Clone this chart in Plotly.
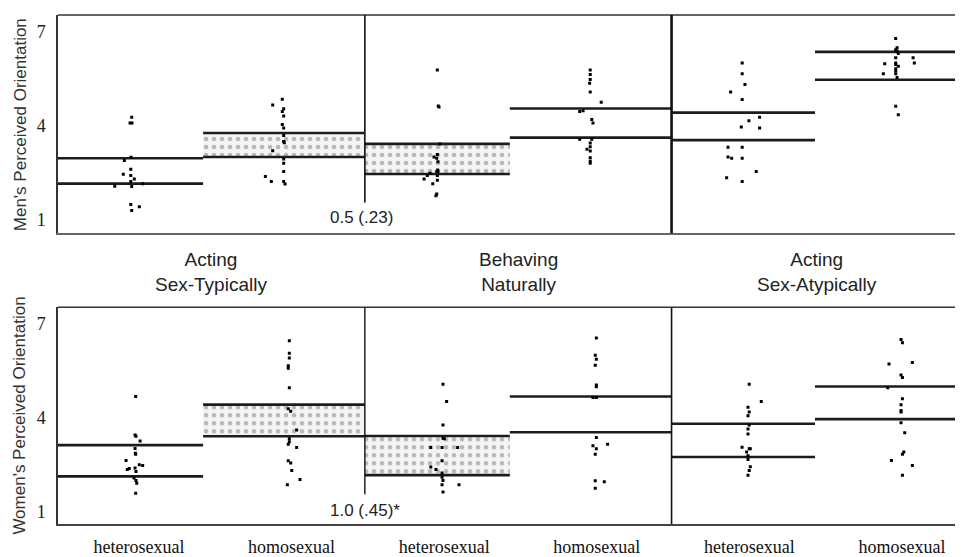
import plotly.graph_objects as go

# ---------------- data ----------------
group_labels = ["heterosexual", "homosexual", "heterosexual", "homosexual", "heterosexual", "homosexual"]
condition_labels = ["Acting<br>Sex-Typically", "Behaving<br>Naturally", "Acting<br>Sex-Atypically"]
y_ticks = [1, 4, 7]

# band limits (lower / upper line) per group
men_lo = [2.15, 3.00, 2.46, 3.62, 3.54, 5.47]
men_hi = [2.96, 3.77, 3.42, 4.55, 4.42, 6.36]
women_lo = [2.12, 3.40, 2.16, 3.53, 2.74, 3.95]
women_hi = [3.12, 4.41, 3.41, 4.67, 3.80, 4.99]
men_shaded = [1, 2]
women_shaded = [1, 2]

men_effect = "0.5 (.23)"
women_effect = "1.0 (.45)*"

# individual ratings (y) and horizontal jitter (in category units)
men_y = [
    [4.27, 4.09, 4.09, 2.99, 2.89, 2.61, 2.45, 2.41, 2.30, 2.22, 2.07, 2.06, 2.15, 1.48, 1.41, 1.29],
    [4.85, 4.66, 4.54, 4.46, 4.31, 4.04, 3.93, 3.69, 3.50, 3.46, 3.20, 2.94, 2.80, 2.54, 2.38, 2.22, 2.22, 2.14],
    [5.78, 4.63, 4.60, 3.42, 3.08, 3.00, 2.96, 2.85, 2.59, 2.54, 2.54, 2.48, 2.41, 2.41, 2.30, 2.26, 2.15, 1.82, 1.76],
    [5.78, 5.64, 5.48, 5.36, 5.08, 4.75, 4.48, 4.46, 4.20, 4.09, 3.57, 3.57, 3.45, 3.33, 3.25, 3.19, 2.98, 2.87, 2.80],
    [6.01, 5.66, 5.32, 5.08, 4.84, 4.27, 4.16, 3.96, 3.93, 3.31, 3.31, 3.00, 2.96, 2.96, 2.54, 2.34, 2.22],
    [6.79, 6.49, 6.43, 6.38, 6.31, 6.17, 6.17, 6.01, 5.98, 6.01, 5.96, 5.90, 5.82, 5.75, 5.66, 5.66, 5.54, 4.62, 4.35],
]
men_dx = [
    [-0.048, -0.059, -0.046, -0.052, -0.096, -0.054, -0.103, -0.054, -0.031, -0.054, -0.159, -0.048, 0.024, -0.054, 0.002, -0.048],
    [-0.061, -0.124, -0.052, -0.061, -0.052, -0.061, -0.052, -0.052, -0.052, -0.048, -0.124, -0.052, -0.052, -0.052, -0.172, -0.133, -0.052, -0.043],
    [-0.045, -0.039, -0.034, -0.028, -0.045, -0.067, -0.049, -0.041, -0.043, -0.049, -0.041, -0.093, -0.045, -0.111, -0.132, -0.045, -0.075, -0.049, -0.054],
    [-0.043, -0.043, -0.043, -0.047, -0.043, 0.029, -0.090, -0.112, -0.033, -0.025, -0.112, -0.033, -0.043, -0.043, -0.064, -0.043, -0.043, -0.043, -0.043],
    [-0.047, -0.047, -0.029, -0.123, -0.047, 0.067, -0.003, -0.053, 0.067, -0.140, -0.047, -0.140, -0.116, -0.047, 0.045, -0.149, -0.047],
    [-0.041, -0.032, -0.041, -0.032, -0.024, 0.073, -0.041, 0.081, -0.113, -0.041, -0.041, -0.024, -0.041, -0.041, -0.041, -0.122, -0.032, -0.041, -0.024],
]
women_y = [
    [4.67, 3.44, 3.40, 3.25, 3.01, 2.86, 2.83, 2.63, 2.49, 2.47, 2.34, 2.37, 2.39, 2.28, 2.07, 1.99, 1.90, 1.58],
    [6.45, 6.05, 5.90, 5.65, 5.57, 4.95, 4.28, 4.20, 3.60, 3.32, 3.23, 3.15, 3.04, 2.62, 2.55, 2.31, 2.02, 1.85],
    [5.06, 4.51, 3.76, 3.34, 3.32, 3.04, 3.04, 3.04, 2.62, 2.42, 2.34, 2.23, 2.09, 1.99, 1.85, 1.85, 1.62],
    [6.54, 5.99, 5.86, 5.67, 5.04, 4.98, 4.64, 4.64, 3.36, 3.10, 3.00, 2.83, 3.15, 1.98, 1.95, 1.74],
    [5.06, 4.51, 4.33, 4.18, 4.06, 3.76, 3.63, 3.47, 3.05, 3.00, 3.00, 2.90, 2.78, 2.66, 2.43, 2.31, 2.16],
    [6.49, 6.39, 5.71, 5.76, 5.36, 5.28, 4.95, 4.60, 4.41, 4.22, 4.18, 3.83, 3.51, 2.90, 2.83, 2.63, 2.47, 2.16],
]
women_dx = [
    [-0.022, -0.026, -0.020, 0.007, -0.026, -0.024, -0.022, -0.085, 0.002, 0.024, -0.077, -0.064, -0.026, -0.020, -0.033, -0.020, -0.015, -0.022],
    [-0.015, -0.015, -0.015, -0.022, -0.022, -0.015, -0.022, -0.006, 0.033, -0.015, -0.015, -0.022, 0.033, -0.022, -0.006, 0.001, 0.055, -0.028],
    [-0.008, 0.016, -0.008, -0.008, 0.001, -0.088, -0.014, 0.088, -0.014, -0.088, -0.054, -0.014, -0.014, -0.008, -0.014, 0.097, -0.008],
    [-0.003, -0.010, -0.003, -0.010, -0.003, -0.003, -0.025, -0.003, -0.003, -0.025, -0.003, -0.010, 0.071, -0.010, 0.049, -0.010],
    [-0.001, 0.078, -0.009, -0.001, -0.009, -0.001, -0.009, -0.009, -0.048, -0.001, 0.006, -0.018, -0.009, -0.009, 0.006, -0.001, -0.009],
    [-0.006, 0.003, -0.085, 0.068, -0.006, 0.003, -0.093, 0.003, -0.006, -0.006, -0.006, -0.006, 0.018, 0.012, 0.003, -0.069, 0.068, 0.003],
]

# ---------------- layout constants ----------------
X_RANGE = [-0.531, 5.40]
GROUP_EDGES = [(-0.531, 0.42), (0.42, 1.48), (1.48, 2.43), (2.43, 3.49), (3.49, 4.43), (4.43, 5.40)]
DIVIDERS = [1.48, 3.49]
TOP_YRANGE = [0.56, 7.54]
BOT_YRANGE = [0.6, 7.52]
LINE_COL = "#1c1c1c"
SANS = "Liberation Sans, Arial, sans-serif"
SERIF = "Liberation Serif, Times New Roman, serif"

fig = go.Figure()


def add_panel(xa, ya, lo, hi, shaded, ys, dxs):
    for g in range(6):
        x0, x1 = GROUP_EDGES[g]
        if g in shaded:
            fig.add_trace(go.Scatter(
                x=[x0, x1, x1, x0, x0], y=[lo[g], lo[g], hi[g], hi[g], lo[g]],
                mode="lines", fill="toself", line=dict(width=0),
                fillcolor="rgba(0,0,0,0)",
                fillpattern=dict(shape=".", fgcolor="#7a7a7a", bgcolor="#f4f4f4", size=8, solidity=0.25),
                xaxis=xa, yaxis=ya, hoverinfo="skip", showlegend=False))
        fig.add_trace(go.Scatter(
            x=[x0, x1, None, x0, x1], y=[lo[g], lo[g], None, hi[g], hi[g]],
            mode="lines", line=dict(color=LINE_COL, width=2.6),
            xaxis=xa, yaxis=ya, hoverinfo="skip", showlegend=False))
        fig.add_trace(go.Scatter(
            x=[g + d for d in dxs[g]], y=ys[g], mode="markers",
            marker=dict(color="black", size=3, symbol="square"),
            xaxis=xa, yaxis=ya, showlegend=False))


add_panel("x", "y", men_lo, men_hi, men_shaded, men_y, men_dx)
add_panel("x2", "y2", women_lo, women_hi, women_shaded, women_y, women_dx)

TOP_DOM = [0.5709, 1.0]
BOT_DOM = [0.0, 0.4258]

yax_common = dict(tickvals=y_ticks, ticktext=[str(t) for t in y_ticks], ticks="outside", ticklen=7,
                  tickcolor="rgba(0,0,0,0)", showgrid=False, zeroline=False, showline=True,
                  linecolor="#333", linewidth=1.5,
                  tickfont=dict(family=SERIF, size=18, color="#222"))

# the page body adds an 8px offset, so the figure is sized to end at the window edge
fig.update_layout(
    width=955, height=549,
    margin=dict(l=50, r=0, t=7, b=27),
    paper_bgcolor="white", plot_bgcolor="white",
    xaxis=dict(domain=[0, 1], range=X_RANGE, anchor="y", showticklabels=False, ticks="",
               showgrid=False, zeroline=False, showline=True, linecolor="#666", linewidth=2),
    yaxis=dict(domain=TOP_DOM, range=TOP_YRANGE, anchor="x", **yax_common),
    xaxis2=dict(domain=[0, 1], range=X_RANGE, anchor="y2", tickvals=list(range(6)), ticktext=group_labels,
                ticks="outside", ticklen=6, tickcolor="rgba(0,0,0,0)",
                tickfont=dict(family=SERIF, size=18, color="#111"),
                showgrid=False, zeroline=False, showline=True, linecolor="#444", linewidth=1.5),
    yaxis2=dict(domain=BOT_DOM, range=BOT_YRANGE, anchor="x2", **yax_common),
)

shapes = []
for xr, yr in (("x", "y"), ("x2", "y2")):
    shapes.append(dict(type="line", xref=xr + " domain", yref=yr + " domain", x0=0, x1=1, y0=1, y1=1,
                       line=dict(color="#333", width=1.5)))
# condition dividers; the first one stops above the effect-size label
for xr, yr, yrng, widths in (("x", "y", TOP_YRANGE, (1.6, 2.6)), ("x2", "y2", BOT_YRANGE, (1.4, 1.6))):
    for i, (d, w) in enumerate(zip(DIVIDERS, widths)):
        shapes.append(dict(type="line", xref=xr, yref=yr, x0=d, x1=d,
                           y0=(1.55 if i == 0 else yrng[0]), y1=yrng[1],
                           line=dict(color="#111", width=w)))
fig.update_layout(shapes=shapes)

ann = []
cond_centers = [(X_RANGE[0] + DIVIDERS[0]) / 2, (DIVIDERS[0] + DIVIDERS[1]) / 2, (DIVIDERS[1] + X_RANGE[1]) / 2]
for c, t in zip(cond_centers, condition_labels):
    ann.append(dict(x=c, xref="x", y=0.496, yref="paper", text=t, showarrow=False,
                    font=dict(family=SANS, size=19, color="#222"), xanchor="center", yanchor="middle"))
ann.append(dict(x=DIVIDERS[0] - 0.02, xref="x", y=1.06, yref="y", text=men_effect, showarrow=False,
                font=dict(family=SANS, size=17, color="#222")))
ann.append(dict(x=DIVIDERS[0], xref="x2", y=1.04, yref="y2", text=women_effect, showarrow=False,
                font=dict(family=SANS, size=17, color="#222")))
for dom, t in ((TOP_DOM, "Men's Perceived Orientation"), (BOT_DOM, "Women's Perceived Orientation")):
    ann.append(dict(x=-0.042, xref="paper", y=(dom[0] + dom[1]) / 2, yref="paper", text=t, textangle=-90,
                    showarrow=False, font=dict(family=SANS, size=17, color="#333"),
                    xanchor="center", yanchor="middle"))
fig.update_layout(annotations=ann)

fig.write_html("out.html")
